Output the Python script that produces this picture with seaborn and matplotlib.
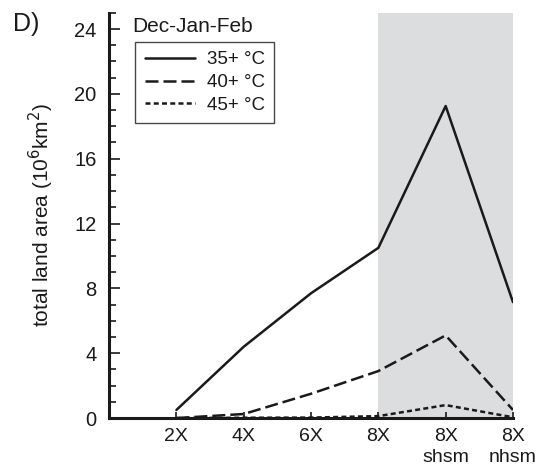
import matplotlib
matplotlib.use('Agg')
import matplotlib.pyplot as plt
from matplotlib.ticker import MultipleLocator
from matplotlib.lines import Line2D
import seaborn as sns
import pandas as pd

# ── data ─────────────────────────────────────────────────────────
scenarios = ['2X', '4X', '6X', '8X', '8X\nshsm', '8X\nnhsm']
area_35 = [0.5, 4.4, 7.7, 10.5, 19.25, 7.15]
area_40 = [0.0, 0.25, 1.5, 2.9, 5.1, 0.5]
area_45 = [0.0, 0.02, 0.03, 0.12, 0.8, 0.05]
series_names = ['35+ °C', '40+ °C', '45+ °C']

pos = list(range(1, len(scenarios) + 1))
df = pd.DataFrame({
    'x': pos * 3,
    'area': area_35 + area_40 + area_45,
    'thr': [s for s in series_names for _ in pos],
})

sns.set_theme(style='ticks')
plt.rcParams['font.family'] = ['Liberation Sans', 'DejaVu Sans']
plt.rcParams['xtick.direction'] = 'in'
plt.rcParams['ytick.direction'] = 'in'
INK = '#1a1a1a'

fig = plt.figure(figsize=(5.51, 4.74), dpi=100)
ax = fig.add_axes([0.198, 0.118, 0.733, 0.855])

ax.axvspan(4, 6, color='#dcdddf', lw=0, zorder=0)

DASH40 = (5.2, 2.0)
DOT45 = (2.0, 1.3)
dashes = {'35+ °C': '', '40+ °C': DASH40, '45+ °C': DOT45}
sns.lineplot(data=df, x='x', y='area', hue='thr', style='thr',
             palette=[INK] * 3, dashes=dashes, lw=1.8, ax=ax,
             legend=False, zorder=3)

ax.set_xlim(0, 6)
ax.set_ylim(0, 25)
ax.set_xticks(pos)
ax.set_xticklabels(scenarios, fontsize=14, linespacing=1.3, va='top', ha='center')
ax.yaxis.set_major_locator(MultipleLocator(4))
ax.yaxis.set_minor_locator(MultipleLocator(1))
ax.tick_params(axis='both', which='both', direction='in', colors=INK, labelcolor=INK)
ax.tick_params(axis='y', which='major', direction='in', length=8, width=1.2, labelsize=14.5, pad=9)
ax.tick_params(axis='y', which='minor', direction='in', length=5, width=1.2)
ax.tick_params(axis='x', which='major', direction='in', length=4, width=1.2, pad=7)
sns.despine(ax=ax)
for s in ['left', 'bottom']:
    ax.spines[s].set_linewidth(2.2)
    ax.spines[s].set_color(INK)

ax.set_xlabel('')
ax.set_ylabel('total land area (10$^6$km$^2$)', fontsize=15, color=INK, va='center')
ax.yaxis.set_label_coords(-0.168, 0.5)

ax.text(0.35, 24.75, 'Dec-Jan-Feb', fontsize=15, va='top', ha='left', color=INK)
handles = [Line2D([], [], color=INK, lw=1.8, ls='-'),
           Line2D([], [], color=INK, lw=1.8, dashes=DASH40),
           Line2D([], [], color=INK, lw=1.8, dashes=DOT45)]
leg = ax.legend(handles, series_names, loc='upper left', bbox_to_anchor=(0.065, 0.928),
                fontsize=13.5, frameon=True, fancybox=False, handlelength=2.7,
                handletextpad=0.6, labelspacing=0.3, borderpad=0.5, borderaxespad=0)
leg.get_frame().set_edgecolor(INK)
leg.get_frame().set_linewidth(1.0)
for t in leg.get_texts():
    t.set_color(INK)

fig.text(0.024, 0.949, 'D)', fontsize=18, va='center', ha='left', color=INK)

fig.savefig('out.png', dpi=100)
